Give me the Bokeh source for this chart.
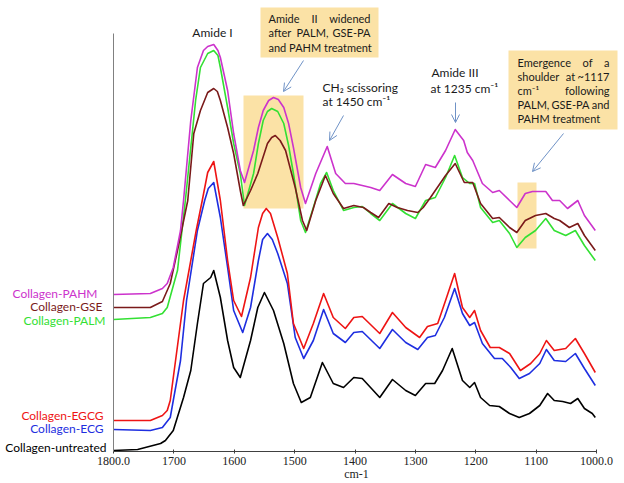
from bokeh.plotting import figure
from bokeh.models import Range1d, FixedTicker, Label, Arrow, OpenHead, BoxAnnotation
from bokeh.embed import file_html
from bokeh.resources import INLINE

# ---------------- data (wavenumber cm-1, absorbance in arbitrary offset units) ----------------
wn_untreated = [1800, 1760, 1722, 1714, 1701, 1684, 1672, 1661, 1651, 1639, 1634, 1623, 1611, 1601, 1590,
                1573, 1561, 1550, 1535, 1518, 1502, 1489, 1474, 1454, 1436, 1419, 1402, 1388, 1359, 1338,
                1316, 1300, 1283, 1268, 1255, 1239, 1222, 1210, 1202, 1192, 1177, 1161, 1144, 1128, 1111,
                1094, 1081, 1070, 1056, 1043, 1031, 1020, 1007, 1002]
ab_untreated = [1, 2, 8, 11, 21, 54, 81, 128, 168, 174, 181, 154, 111, 84, 74,
                111, 144, 159, 141, 108, 68, 49, 54, 89, 68, 64, 74, 73, 54, 72,
                61, 56, 68, 68, 81, 103, 71, 64, 69, 54, 46, 45, 38, 34, 38,
                46, 58, 51, 50, 48, 53, 43, 38, 34]

wn_ecg = [1800, 1739, 1719, 1706, 1701, 1689, 1679, 1661, 1649, 1643, 1634, 1623, 1611, 1601, 1586,
          1573, 1560, 1553, 1545, 1537, 1528, 1512, 1499, 1485, 1469, 1452, 1436, 1416, 1402, 1388,
          1359, 1338, 1316, 1296, 1280, 1267, 1252, 1235, 1222, 1210, 1202, 1189, 1169, 1156, 1142,
          1128, 1111, 1094, 1083, 1070, 1051, 1035, 1020, 1002]
ab_ecg = [22, 21, 24, 34, 51, 91, 151, 221, 251, 263, 269, 234, 184, 141, 119,
          144, 191, 212, 218, 212, 198, 168, 114, 93, 111, 142, 118, 109, 119, 120,
          103, 122, 109, 102, 114, 116, 134, 163, 138, 126, 129, 108, 93, 93, 84,
          73, 78, 88, 102, 91, 90, 98, 83, 66]

wn_egcg = [1800, 1739, 1719, 1711, 1706, 1684, 1663, 1653, 1644, 1634, 1623, 1611, 1601, 1588, 1573,
           1560, 1553, 1547, 1540, 1528, 1512, 1502, 1485, 1469, 1452, 1436, 1416, 1402, 1388, 1359,
           1338, 1316, 1293, 1280, 1263, 1250, 1235, 1222, 1210, 1202, 1192, 1176, 1161, 1144, 1126,
           1109, 1094, 1083, 1070, 1051, 1035, 1020, 1002]
ab_egcg = [31, 31, 36, 41, 51, 151, 221, 251, 279, 290, 251, 191, 151, 135, 174,
           224, 238, 243, 238, 214, 178, 128, 103, 128, 158, 134, 123, 134, 135, 118,
           139, 124, 114, 125, 128, 151, 178, 144, 134, 141, 121, 104, 104, 98, 81,
           88, 98, 111, 101, 103, 113, 98, 79]

wn_palm = [1800, 1739, 1719, 1711, 1694, 1681, 1664, 1656, 1644, 1634, 1627, 1623, 1611, 1601, 1590,
           1583, 1568, 1560, 1552, 1545, 1538, 1528, 1518, 1510, 1502, 1490, 1482, 1469, 1457, 1447,
           1436, 1419, 1402, 1388, 1374, 1359, 1338, 1316, 1300, 1283, 1267, 1250, 1235, 1222, 1210,
           1202, 1192, 1172, 1161, 1144, 1132, 1118, 1101, 1084, 1070, 1051, 1035, 1020, 1002]
ab_palm = [132, 134, 138, 144, 181, 251, 351, 384, 398, 401, 396, 384, 344, 308, 278,
           246, 278, 308, 331, 340, 343, 340, 328, 306, 278, 231, 219, 244, 268, 279,
           261, 241, 244, 245, 238, 231, 248, 238, 233, 251, 254, 274, 296, 274, 268,
           268, 244, 229, 231, 218, 204, 214, 221, 233, 221, 216, 221, 206, 191]

wn_gse = [1800, 1739, 1719, 1706, 1694, 1677, 1667, 1656, 1644, 1634, 1628, 1623, 1611, 1601, 1590,
          1585, 1573, 1561, 1545, 1538, 1532, 1524, 1515, 1499, 1487, 1480, 1465, 1449, 1436, 1419,
          1402, 1386, 1374, 1361, 1344, 1330, 1313, 1296, 1287, 1275, 1250, 1234, 1219, 1205, 1192,
          1172, 1161, 1144, 1132, 1118, 1101, 1084, 1070, 1061, 1045, 1031, 1020, 1002]
ab_gse = [144, 144, 150, 168, 201, 251, 318, 341, 359, 363, 360, 351, 324, 298, 261,
          246, 261, 278, 308, 314, 316, 311, 301, 264, 231, 221, 251, 276, 258, 243,
          246, 244, 239, 234, 248, 244, 241, 239, 244, 254, 276, 288, 269, 269, 248,
          233, 234, 224, 219, 231, 236, 238, 233, 231, 224, 228, 216, 201]

wn_pahm = [1800, 1739, 1719, 1711, 1701, 1689, 1684, 1672, 1661, 1651, 1644, 1634, 1627, 1623, 1611,
           1601, 1590, 1583, 1568, 1560, 1552, 1543, 1535, 1527, 1518, 1510, 1502, 1490, 1482, 1465,
           1446, 1432, 1416, 1402, 1388, 1374, 1359, 1338, 1316, 1300, 1283, 1267, 1250, 1234, 1220,
           1214, 1205, 1189, 1172, 1161, 1144, 1132, 1118, 1106, 1084, 1073, 1061, 1048, 1031, 1020, 1002]
ab_pahm = [157, 158, 163, 168, 184, 221, 251, 331, 384, 401, 405, 407, 401, 394, 361,
           318, 281, 269, 301, 324, 341, 351, 354, 352, 344, 328, 304, 264, 248, 278,
           305, 278, 268, 268, 266, 264, 261, 277, 268, 265, 287, 284, 301, 322, 311,
           299, 291, 268, 259, 261, 251, 244, 258, 260, 260, 251, 251, 243, 251, 236, 221]

series_names = ["Collagen-untreated", "Collagen-ECG", "Collagen-EGCG",
                "Collagen-PALM", "Collagen-GSE", "Collagen-PAHM"]
series_wn = [wn_untreated, wn_ecg, wn_egcg, wn_palm, wn_gse, wn_pahm]
series_ab = [ab_untreated, ab_ecg, ab_egcg, ab_palm, ab_gse, ab_pahm]
series_colors = ["#000000", "#1E2EE0", "#EE1414", "#33E033", "#7A1A1A", "#CC33CC"]

tick_values = [1800, 1700, 1600, 1500, 1400, 1300, 1200, 1100, 1000]
tick_overrides = {1800: "1800.0", 1000: "1000.0"}

# ---------------- helpers to place annotations (reference pixel -> data) ----------------
def X(px):
    return 1800 - (px - 113) * 1.6563

def Y(py):
    return 451 - py

SANS = "Lato"
BOX = "#FBE2A6"
ARROW = "#6F92C6"
TXT = "#1a1a1a"

p = figure(width=624, height=483, x_range=Range1d(X(0), X(624)), y_range=Range1d(Y(483), Y(0)),
           output_backend="svg", toolbar_location=None,
           min_border_left=0, min_border_right=0, min_border_top=0, min_border_bottom=0)
p.grid.visible = False
p.outline_line_color = None

# x axis (drawn at y = 0 inside the frame)
xa = p.xaxis[0]
xa.fixed_location = 0
xa.ticker = FixedTicker(ticks=tick_values)
xa.major_label_overrides = tick_overrides
xa.bounds = (1000, 1800)
xa.minor_tick_line_color = None
xa.major_tick_in = 2
xa.major_tick_out = 2
xa.major_label_standoff = 3
xa.major_label_text_font = "Liberation Serif"
xa.major_label_text_font_size = "12px"
xa.major_label_text_color = "#222222"
xa.axis_line_color = "#404040"
xa.major_tick_line_color = "#404040"

# y axis (line only, at 1800 cm-1)
ya = p.yaxis[0]
ya.fixed_location = 1800
ya.ticker = FixedTicker(ticks=[])
ya.major_label_text_font_size = "0px"
ya.minor_tick_line_color = None
ya.major_tick_line_color = None
ya.bounds = (0, 418)
ya.axis_line_color = "#808080"

# highlight boxes (under curves)
p.add_layout(BoxAnnotation(left=X(243), right=X(303), top=Y(95), bottom=Y(208),
                           fill_color=BOX, fill_alpha=1.0, line_color=None, level="underlay"))
p.add_layout(BoxAnnotation(left=X(517), right=X(536), top=Y(182), bottom=Y(248),
                           fill_color=BOX, fill_alpha=1.0, line_color=None, level="underlay"))
# text boxes
p.add_layout(BoxAnnotation(left=X(260), right=X(378), top=Y(7), bottom=Y(57),
                           fill_color=BOX, fill_alpha=1.0, line_color=None, level="underlay"))
p.add_layout(BoxAnnotation(left=X(508), right=X(617), top=Y(50), bottom=Y(129),
                           fill_color=BOX, fill_alpha=1.0, line_color=None, level="underlay"))

# spectra
for wn, ab, col in zip(series_wn, series_ab, series_colors):
    p.line(wn, ab, line_color=col, line_width=1.6, line_join="round")

# series labels (left of axis)
label_pos = {"Collagen-PAHM": (97, 293), "Collagen-GSE": (102, 306), "Collagen-PALM": (105, 320),
             "Collagen-EGCG": (103, 415), "Collagen-ECG": (103, 428), "Collagen-untreated": (106, 447)}
for name, col in zip(series_names, series_colors):
    px, py = label_pos[name]
    p.add_layout(Label(x=X(px), y=Y(py), text=name, text_font=SANS, text_font_size="12px",
                       text_color=col, text_align="right", text_baseline="middle"))

def txt(px, py, s, align="left", size="12px"):
    p.add_layout(Label(x=X(px), y=Y(py), text=s, text_font=SANS, text_font_size=size,
                       text_color=TXT, text_align=align, text_baseline="middle"))

# peak labels
txt(212, 32, "Amide I", align="center")
txt(322, 87, "CH\u2082 scissoring")
txt(322, 101, "at 1450 cm\u207b\u00b9")
txt(431, 72, "Amide III")
txt(430, 88, "at 1235 cm\u207b\u00b9")

# box 1 text (justified)
bs = "11px"
txt(268, 18, "Amide", size=bs); txt(314, 18, "II", align="center", size=bs); txt(370, 18, "widened", align="right", size=bs)
txt(268, 32, "after", size=bs); txt(312, 32, "PALM,", align="center", size=bs); txt(370, 32, "GSE-PA", align="right", size=bs)
txt(268, 47, "and PAHM treatment", size=bs)

# box 2 text (justified)
txt(517, 62, "Emergence", size=bs); txt(587, 62, "of", align="center", size=bs); txt(609, 62, "a", align="right", size=bs)
txt(517, 76, "shoulder", size=bs); txt(570, 76, "at", align="center", size=bs); txt(609, 76, "~1117", align="right", size=bs)
txt(517, 90, "cm\u207b\u00b9", size=bs); txt(609, 90, "following", align="right", size=bs)
txt(517, 104, "PALM,", size=bs); txt(570, 104, "GSE-PA", align="center", size=bs); txt(609, 104, "and", align="right", size=bs)
txt(517, 118, "PAHM treatment", size=bs)

# arrows
for (x0, y0, x1, y1) in [(303, 60, 283, 91), (343, 115, 329, 140), (455, 102, 455, 122), (563, 133, 532, 171)]:
    p.add_layout(Arrow(end=OpenHead(size=8, line_color=ARROW, line_width=1),
                       x_start=X(x0), y_start=Y(y0), x_end=X(x1), y_end=Y(y1),
                       line_color=ARROW, line_width=1))

# x axis title
p.add_layout(Label(x=X(356), y=Y(473), text="cm-1", text_font="Liberation Serif", text_font_size="12px",
                   text_color="#222222", text_align="center", text_baseline="middle"))

open("out.html", "w").write(file_html(p, INLINE))
